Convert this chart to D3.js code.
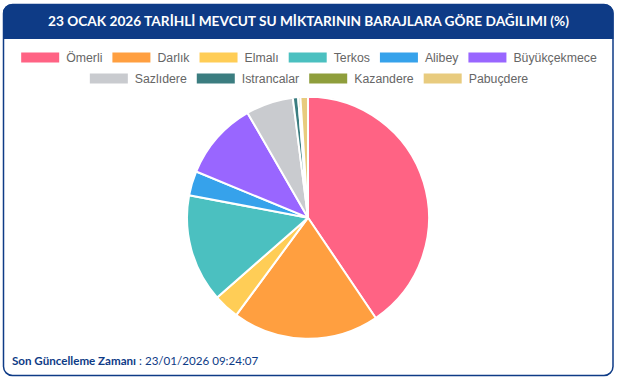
<!DOCTYPE html>
<html><head><meta charset="utf-8">
<script src="https://cdn.jsdelivr.net/npm/d3@7"></script>
<style>
html,body{margin:0;padding:0;background:#fff;}
svg{display:block;}
</style></head>
<body>
<svg id="chart" width="617" height="384"></svg>
<script>
const title = "23 OCAK 2026 TARİHLİ MEVCUT SU MİKTARININ BARAJLARA GÖRE DAĞILIMI (%)";
const categories = ["Ömerli","Darlık","Elmalı","Terkos","Alibey","Büyükçekmece","Sazlıdere","Istrancalar","Kazandere","Pabuçdere"];
const values = [40.4, 19.5, 3.4, 14.4, 3.25, 10.4, 6.3, 0.7, 0.3, 1.0];
const colors = ["#ff6384","#ff9f40","#ffcd56","#4bc0c0","#36a2eb","#9966ff","#c9cbcf","#3b7d80","#8f9e3c","#e8cb7e"];
const footerLabel = "Son Güncelleme Zamanı";
const footerValue = " : 23/01/2026 09:24:07";

const svg = d3.select("#chart");
const blue = "#0e3b86";

// card
svg.append("rect").attr("x",3.5).attr("y",4.5).attr("width",609.5).attr("height",371)
  .attr("rx",9).attr("fill","#fff").attr("stroke",blue).attr("stroke-width",1.5);
// title bar
const tb = d3.path();
const x0=3, y0=4, x1=613.5, y1=39, r=9;
tb.moveTo(x0,y1); tb.lineTo(x0,y0+r); tb.arcTo(x0,y0,x0+r,y0,r); tb.lineTo(x1-r,y0); tb.arcTo(x1,y0,x1,y0+r,r); tb.lineTo(x1,y1); tb.closePath();
svg.append("path").attr("d",tb.toString()).attr("fill",blue);
const tt = svg.append("text").attr("x",308.5).attr("y",26).attr("text-anchor","middle")
  .attr("fill","#fff").attr("font-family","Lato, 'Open Sans', sans-serif").attr("font-weight",700)
  .attr("font-size",13.5).text(title);
tt.attr("textLength",521).attr("lengthAdjust","spacingAndGlyphs");

// legend (Chart.js-like layout)
const fontSize = 12.3, boxW = 38, boxH = 10, pad = 10, gap = 7;
const legendFont = "'Liberation Sans', Arial, Helvetica, sans-serif";
const measure = svg.append("text").attr("font-family",legendFont).attr("font-size",fontSize);
const items = categories.map((c,i)=>{ measure.text(c); return {c, i, w: boxW + gap + measure.node().getComputedTextLength()}; });
measure.remove();
const rows = [items.slice(0,6), items.slice(6)];
const rowY = [57.5, 78.5];
rows.forEach((row,ri)=>{
  const total = d3.sum(row,d=>d.w) + pad*(row.length-1);
  let x = 309 - total/2;
  row.forEach(d=>{
    const g = svg.append("g");
    g.append("rect").attr("x",x).attr("y",rowY[ri]-boxH/2).attr("width",boxW).attr("height",boxH)
      .attr("fill",colors[d.i]);
    g.append("text").attr("x",x+boxW+gap).attr("y",rowY[ri]).attr("dy","0.36em")
      .attr("font-family",legendFont).attr("font-size",fontSize).attr("fill","#666").text(d.c);
    x += d.w + pad;
  });
});

// pie
const cx = 308, cy = 217.7, R = 121;
const pie = d3.pie().sort(null).value(d=>d);
const arc = d3.arc().innerRadius(0).outerRadius(R);
svg.append("g").attr("transform",`translate(${cx},${cy})`)
  .selectAll("path").data(pie(values)).join("path")
  .attr("d",arc).attr("fill",(d,i)=>colors[i])
  .attr("stroke","#fff").attr("stroke-width",2).attr("stroke-linejoin","round");

// footer
const ft = svg.append("text").attr("x",12).attr("y",365).attr("font-family","Lato, 'Open Sans', sans-serif")
  .attr("font-size",11.6).attr("fill",blue);
ft.append("tspan").attr("font-weight",700).text(footerLabel);
ft.append("tspan").text(footerValue);
</script>
</body></html>
